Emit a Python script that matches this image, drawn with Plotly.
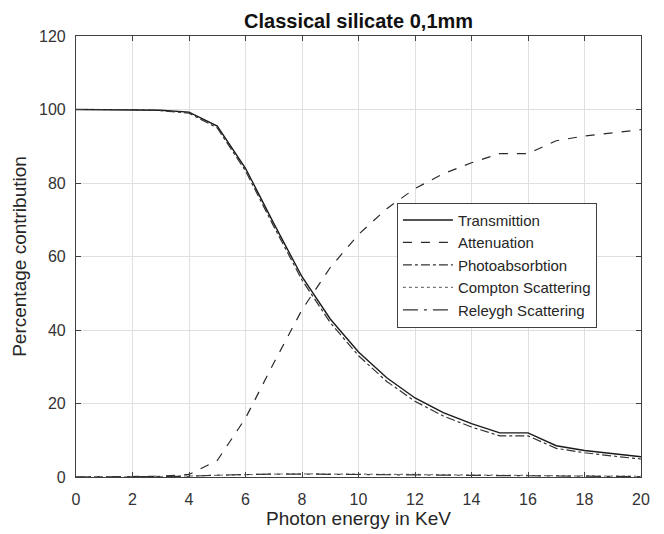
import plotly.graph_objects as go

# Photon energy grid (keV)
energy = list(range(0, 21))

# Percentage contributions per energy
transmission = [100, 100, 100, 99.8, 99.3, 95.5, 84.0, 69.0, 54.5, 43.0, 34.0,
                27.0, 21.5, 17.5, 14.5, 12.0, 12.0, 8.5, 7.2, 6.3, 5.5]
attenuation = [0, 0, 0, 0.2, 0.7, 4.5, 16.0, 31.0, 45.5, 57.0, 66.0,
               73.0, 78.5, 82.5, 85.5, 88.0, 88.0, 91.5, 92.8, 93.7, 94.5]
photoabsorption = [100, 100, 100, 99.7, 99.0, 95.0, 83.3, 68.2, 53.6, 42.0, 33.0,
                   26.0, 20.6, 16.6, 13.6, 11.2, 11.2, 7.8, 6.6, 5.7, 4.9]
compton = [0, 0, 0, 0.1, 0.3, 0.5, 0.7, 0.8, 0.85, 0.85, 0.8,
           0.75, 0.7, 0.6, 0.5, 0.45, 0.4, 0.35, 0.3, 0.25, 0.2]
rayleigh = [0, 0, 0, 0.05, 0.2, 0.5, 0.7, 0.8, 0.8, 0.75, 0.7,
            0.6, 0.5, 0.45, 0.4, 0.35, 0.3, 0.25, 0.2, 0.15, 0.1]

series = [
    ("Transmittion", transmission, "solid", "#1a1a1a", 1.4),
    ("Attenuation", attenuation, "dash", "#2a2a2a", 1.2),
    ("Photoabsorbtion", photoabsorption, "dashdot", "#333333", 1.2),
    ("Compton Scattering", compton, "dot", "#777777", 1.2),
    ("Releygh Scattering", rayleigh, "longdashdot", "#333333", 1.2),
]

FONT = "Liberation Sans, Arial, sans-serif"
TXT = "#262626"

fig = go.Figure()
for name, vals, dash, color, width in series:
    fig.add_trace(go.Scatter(
        x=energy, y=vals, mode="lines", name=name,
        line=dict(color=color, width=width, dash=dash),
    ))

axis_common = dict(
    showline=True, linecolor="#404040", linewidth=1.2, mirror="ticks",
    ticks="inside", ticklen=5, tickcolor="#404040", tickwidth=1,
    showgrid=True, gridcolor="#e0e0e0", gridwidth=1, zeroline=False,
    tickfont=dict(family=FONT, size=16, color="#333333"),
)

fig.update_xaxes(
    range=[0, 20], tick0=0, dtick=2, ticklabelstandoff=8,
    title=dict(text="Photon energy in KeV", font=dict(family=FONT, size=19, color=TXT), standoff=0),
    **axis_common,
)
fig.update_yaxes(
    range=[0, 120], tick0=0, dtick=20, ticklabelstandoff=6,
    title=dict(text="Percentage contribution", font=dict(family=FONT, size=19, color=TXT), standoff=7),
    **axis_common,
)

fig.update_layout(
    width=664, height=534,
    margin=dict(l=76, r=23, t=36, b=53),
    paper_bgcolor="white", plot_bgcolor="white",
    title=dict(text="<b>Classical silicate 0,1mm</b>", x=0.54, xanchor="center",
               y=0.961, yanchor="middle",
               font=dict(family=FONT, size=20, color="#111111")),
    showlegend=True,
    legend=dict(
        x=0.568, y=0.622, xanchor="left", yanchor="top",
        bgcolor="white", bordercolor="#404040", borderwidth=1,
        font=dict(family=FONT, size=15, color=TXT),
        itemwidth=50, tracegroupgap=0,
    ),
)

fig.write_html("out.html")
